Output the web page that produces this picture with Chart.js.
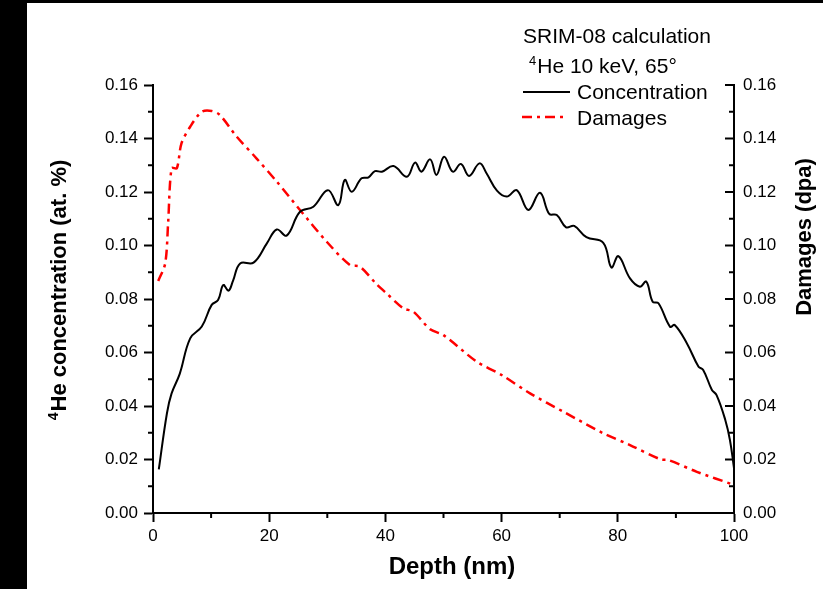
<!DOCTYPE html>
<html>
<head>
<meta charset="utf-8">
<script src="https://cdn.jsdelivr.net/npm/chart.js@4.4.1/dist/chart.umd.min.js"></script>
<style>
  html, body { margin: 0; padding: 0; background: #000; }
  #wrap { position: absolute; left: 27px; top: 3px; width: 796px; height: 586px; background: #fff; }
</style>
</head>
<body>
<div id="wrap"><canvas id="mycanvas" width="796" height="586"></canvas></div>
<script>
// He concentration (black solid)
var concDepth = [1, 2.4, 3.2, 4.6, 6.4, 8.4, 10.1, 11.2, 12.1, 13, 13.8, 15, 17.3, 19.6, 21.3, 23, 25.3, 27.6,
  30.1, 31.9, 33, 34.2, 35.9, 37.1, 38.2, 39.4, 41.4, 43.7, 45.1, 46.2, 47.7, 48.8, 50.1, 51.6, 53, 54.4,
  56.2, 57.4, 59.2, 60.9, 62.6, 64.6, 66.6, 68.2, 69.5, 71.1, 72.5, 74.6, 77.5, 78.9, 80.1, 82.1, 83.8,
  84.9, 86, 87, 89, 89.8, 91.9, 93.9, 94.7, 96.2, 97, 98.5, 99.3, 100];
var concValues = [0.0163, 0.0373, 0.0447, 0.052, 0.0653, 0.0697, 0.0778, 0.0796, 0.0852, 0.0831, 0.087, 0.0933,
  0.0936, 0.1008, 0.106, 0.1037, 0.1126, 0.1145, 0.1207, 0.1151, 0.1245, 0.1201, 0.1251, 0.1255, 0.1278,
  0.1276, 0.1297, 0.1257, 0.131, 0.1276, 0.1322, 0.1264, 0.1332, 0.1276, 0.1305, 0.126, 0.1307, 0.127,
  0.1205, 0.1183, 0.1207, 0.1133, 0.1197, 0.1118, 0.1114, 0.1068, 0.1073, 0.1031, 0.101, 0.0918, 0.096,
  0.0877, 0.0846, 0.0865, 0.079, 0.0784, 0.0696, 0.0703, 0.0634, 0.0547, 0.0535, 0.046, 0.0441, 0.0348,
  0.0273, 0.0168];

// Damages (red dash-dot)
var dmgDepth = [0.9, 2.1, 2.6, 3.2, 4.1, 4.9, 6.4, 8.4, 10.1, 11.5, 14.4, 17.8, 21.3, 25.3, 29.9, 33.9, 35.6,
  38.5, 40.2, 43.1, 44.8, 47.7, 50, 55.7, 60, 64.9, 70.6, 77.5, 82.1, 87.3, 88.7, 93.6, 100];
var dmgValues = [0.0867, 0.0933, 0.1083, 0.1289, 0.1289, 0.1382, 0.1444, 0.15, 0.1503, 0.1488, 0.1407, 0.1326,
  0.1239, 0.1133, 0.1014, 0.0927, 0.0921, 0.0855, 0.0821, 0.0765, 0.0753, 0.0687, 0.0665, 0.0566, 0.0516,
  0.0447, 0.0379, 0.0298, 0.0254, 0.0201, 0.0198, 0.0154, 0.0105];

var xTicks = [0, 20, 40, 60, 80, 100];
var yTicks = [0, 0.02, 0.04, 0.06, 0.08, 0.10, 0.12, 0.14, 0.16];

var FONT = "'Liberation Sans', Arial, sans-serif";
var RED_DASH = [10, 5, 3, 5];

function pts(xs, ys) {
  var out = [];
  for (var i in xs) out.push({x: xs[i], y: ys[i]});
  return out;
}

function minors(ticks) {
  var m = [];
  for (var i = 0; i < ticks.length - 1; i++) m.push((ticks[i] + ticks[i + 1]) / 2);
  return m;
}

function line(ctx, x1, y1, x2, y2) {
  ctx.beginPath(); ctx.moveTo(x1, y1); ctx.lineTo(x2, y2); ctx.stroke();
}

// superscript text helper: draws small "4" then rest, starting at x (left aligned)
function supText(ctx, x, y, sup, text, size, bold) {
  var w = bold ? 'bold ' : '';
  ctx.font = w + Math.round(size * 0.62) + 'px ' + FONT;
  var sw = ctx.measureText(sup).width;
  ctx.fillText(sup, x, y - size * 0.38);
  ctx.font = w + size + 'px ' + FONT;
  ctx.fillText(text, x + sw + 1, y);
  return sw + 1 + ctx.measureText(text).width;
}

var extras = {
  id: 'extras',
  afterDraw: function(chart) {
    var ctx = chart.ctx;
    var sx = chart.scales.x, sy = chart.scales.y, sy2 = chart.scales.y2;
    ctx.save();
    ctx.strokeStyle = '#000';
    ctx.fillStyle = '#000';
    ctx.lineWidth = 2;

    // minor ticks (outward) on x and left y
    minors(xTicks).forEach(function(v) {
      var p = sx.getPixelForValue(v);
      line(ctx, p, sx.top, p, sx.top + 5);
    });
    minors(yTicks).forEach(function(v) {
      var p = sy.getPixelForValue(v);
      line(ctx, sy.right - 5, p, sy.right, p);
    });
    // right axis ticks point inward
    yTicks.forEach(function(v) {
      var p = sy2.getPixelForValue(v);
      line(ctx, sy2.left - 9, p, sy2.left, p);
    });
    minors(yTicks).forEach(function(v) {
      var p = sy2.getPixelForValue(v);
      line(ctx, sy2.left - 5, p, sy2.left, p);
    });

    // axis titles
    ctx.textBaseline = 'alphabetic';
    ctx.textAlign = 'left';
    ctx.font = 'bold 24px ' + FONT;
    var t = 'Depth (nm)';
    var tw = ctx.measureText(t).width;
    ctx.fillText(t, 425 - tw / 2, 571);

    // left title, reads bottom to top
    ctx.save();
    ctx.translate(39, 287);
    ctx.rotate(-Math.PI / 2);
    ctx.font = 'bold 14px ' + FONT;
    var w1 = ctx.measureText('4').width + 1;
    ctx.font = 'bold 22px ' + FONT;
    var w2 = ctx.measureText('He concentration (at. %)').width;
    supText(ctx, -(w1 + w2) / 2, 0, '4', 'He concentration (at. %)', 22, true);
    ctx.restore();

    // right title, also reads bottom to top
    ctx.save();
    ctx.translate(784, 234);
    ctx.rotate(-Math.PI / 2);
    ctx.font = 'bold 22px ' + FONT;
    t = 'Damages (dpa)';
    tw = ctx.measureText(t).width;
    ctx.fillText(t, -tw / 2, 0);
    ctx.restore();

    // legend block
    ctx.font = '21px ' + FONT;
    ctx.fillText('SRIM-08 calculation', 496, 40);
    supText(ctx, 502, 70, '4', 'He 10 keV, 65\u00B0', 21, false);
    ctx.font = '21px ' + FONT;
    ctx.lineWidth = 2;
    line(ctx, 496, 89, 543, 89);
    ctx.fillText('Concentration', 550, 96);
    ctx.strokeStyle = '#ff0000';
    ctx.lineWidth = 2.5;
    ctx.setLineDash(RED_DASH);
    line(ctx, 495, 114, 540, 114);
    ctx.setLineDash([]);
    ctx.fillText('Damages', 550, 122);
    ctx.restore();
  }
};

var tickFont = {family: FONT, size: 17};

var chartdata = {
  datasets: [
    {
      label: 'Concentration',
      data: pts(concDepth, concValues),
      borderColor: '#000000',
      backgroundColor: '#000000',
      borderWidth: 2,
      pointRadius: 0,
      tension: 0.4,
      fill: false,
      yAxisID: 'y'
    },
    {
      label: 'Damages',
      data: pts(dmgDepth, dmgValues),
      borderColor: '#ff0000',
      backgroundColor: '#ff0000',
      borderWidth: 2.5,
      borderDash: RED_DASH,
      pointRadius: 0,
      tension: 0.3,
      fill: false,
      yAxisID: 'y2'
    }
  ]
};

var ctx = document.getElementById('mycanvas');
var LineGraph = new Chart(ctx, {
  type: 'line',
  data: chartdata,
  plugins: [extras],
  options: {
    responsive: false,
    animation: false,
    layout: {padding: {top: 82, left: 0, right: 0, bottom: 0}},
    plugins: {legend: {display: false}, tooltip: {enabled: false}},
    scales: {
      x: {
        type: 'linear', min: 0, max: 100,
        afterBuildTicks: function(s) { s.ticks = xTicks.map(function(v) { return {value: v}; }); },
        afterFit: function(s) { s.height = 76; },
        ticks: {color: '#000', font: tickFont, padding: 4, maxRotation: 0,
          callback: function(v) { return String(v); }},
        grid: {drawOnChartArea: false, drawTicks: true, tickLength: 9, tickColor: '#000', tickWidth: 2},
        border: {display: true, color: '#000', width: 2}
      },
      y: {
        type: 'linear', position: 'left', min: 0, max: 0.16,
        afterBuildTicks: function(s) { s.ticks = yTicks.map(function(v) { return {value: v}; }); },
        afterFit: function(s) { s.width = 126; },
        ticks: {color: '#000', font: tickFont, padding: 6,
          callback: function(v) { return v.toFixed(2); }},
        grid: {drawOnChartArea: false, drawTicks: true, tickLength: 9, tickColor: '#000', tickWidth: 2},
        border: {display: true, color: '#000', width: 2}
      },
      y2: {
        type: 'linear', position: 'right', min: 0, max: 0.16,
        afterBuildTicks: function(s) { s.ticks = yTicks.map(function(v) { return {value: v}; }); },
        afterFit: function(s) { s.width = 89; },
        ticks: {color: '#000', font: tickFont, padding: 9,
          callback: function(v) { return v.toFixed(2); }},
        grid: {drawOnChartArea: false, drawTicks: false},
        border: {display: true, color: '#000', width: 2}
      }
    }
  }
});
</script>
</body>
</html>
